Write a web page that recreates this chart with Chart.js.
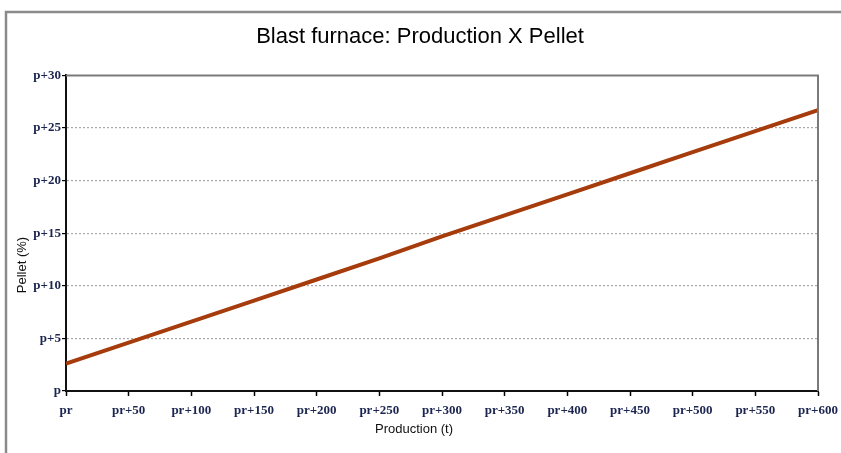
<!DOCTYPE html>
<html>
<head>
<meta charset="utf-8">
<script src="https://cdn.jsdelivr.net/npm/chart.js@4"></script>
<style>
  html, body { margin: 0; padding: 0; background: #fff; }
  #wrap { width: 841px; height: 453px; position: relative; }
</style>
</head>
<body>
<div id="wrap"><canvas id="grafico"></canvas></div>
<script>
// production offsets (t) and pellet share (%)
const production = [0, 50, 100, 150, 200, 250, 300, 350, 400, 450, 500, 550, 600];
const pellet = [2.6, 4.6, 6.6, 8.6, 10.6, 12.6, 14.7, 16.7, 18.7, 20.7, 22.7, 24.7, 26.7];
const xTicks = [0, 50, 100, 150, 200, 250, 300, 350, 400, 450, 500, 550, 600];
const yTicks = [0, 5, 10, 15, 20, 25, 30];
const xTitle = 'Production (t)';
const yTitle = 'Pellet (%)';

const points = production.map((p, i) => ({ x: p, y: pellet[i] }));

const tickFont = { family: '"Liberation Serif", "Times New Roman", serif', size: 13, weight: 'bold' };
const tickColor = '#1b2550';

// outer frame, gray top/right border of the plot area, axis titles (off-centre in the original)
const framePlugin = {
    id: 'frame',
    beforeDraw(chart) {
        const ctx = chart.ctx;
        ctx.save();
        ctx.strokeStyle = '#8a8a8a';
        ctx.lineWidth = 2.5;
        ctx.beginPath();
        ctx.moveTo(6, 453);
        ctx.lineTo(6, 12);
        ctx.lineTo(841, 12);
        ctx.stroke();
        ctx.restore();
    },
    afterDatasetsDraw(chart) {
        const a = chart.chartArea;
        const ctx = chart.ctx;
        ctx.save();
        ctx.strokeStyle = '#7a7a7a';
        ctx.lineWidth = 2;
        ctx.beginPath();
        ctx.moveTo(a.left, a.top);
        ctx.lineTo(a.right, a.top);
        ctx.lineTo(a.right, a.bottom);
        ctx.stroke();

        ctx.fillStyle = '#111';
        ctx.font = '13px "Liberation Sans", Arial, sans-serif';
        ctx.textAlign = 'center';
        ctx.textBaseline = 'middle';
        ctx.fillText(xTitle, 414, 429);

        ctx.translate(22, 265);
        ctx.rotate(-Math.PI / 2);
        ctx.fillText(yTitle, 0, 0);
        ctx.restore();
    }
};

const ctx = document.getElementById('grafico').getContext('2d');
new Chart(ctx, {
    type: 'line',
    data: {
        datasets: [{
            label: 'Pellet',
            data: points,
            borderColor: '#a63b0c',
            borderWidth: 4,
            pointRadius: 0,
            tension: 0
        }]
    },
    options: {
        responsive: true,
        maintainAspectRatio: false,
        animation: false,
        layout: { padding: { left: 22, right: 23, top: 12, bottom: 17 } },
        plugins: {
            legend: { display: false },
            tooltip: { enabled: false },
            title: {
                display: true,
                text: 'Blast furnace: Production X Pellet',
                color: '#000',
                font: { family: '"Liberation Sans", Arial, sans-serif', size: 22, weight: 'normal' },
                padding: { top: 12, bottom: 25 }
            }
        },
        scales: {
            x: {
                type: 'linear',
                min: 0,
                max: 600,
                afterBuildTicks: s => { s.ticks = xTicks.map(v => ({ value: v })); },
                afterFit: s => { s.height = 45; s.paddingRight = 0; s.paddingLeft = 0; },
                ticks: {
                    font: tickFont,
                    color: tickColor,
                    padding: 7,
                    maxRotation: 0,
                    callback: v => v === 0 ? 'pr' : 'pr+' + v
                },
                grid: {
                    drawOnChartArea: false,
                    tickLength: 5,
                    tickColor: '#000',
                    tickWidth: 1.5
                },
                border: { color: '#111', width: 2 },
                title: { display: false }
            },
            y: {
                min: 0,
                max: 30,
                afterBuildTicks: s => { s.ticks = yTicks.map(v => ({ value: v })); },
                afterFit: s => { s.width = 44; },
                ticks: {
                    font: tickFont,
                    color: tickColor,
                    padding: 1,
                    callback: v => v === 0 ? 'p' : 'p+' + v
                },
                grid: {
                    color: c => (c.tick && (c.tick.value === 0 || c.tick.value === 30)) ? 'rgba(0,0,0,0)' : '#a8a8a8',
                    lineWidth: 1.2,
                    tickLength: 4,
                    tickColor: '#000'
                },
                border: { color: '#111', width: 2, dash: [2, 2] },
                title: { display: false }
            }
        }
    },
    plugins: [framePlugin]
});
</script>
</body>
</html>
